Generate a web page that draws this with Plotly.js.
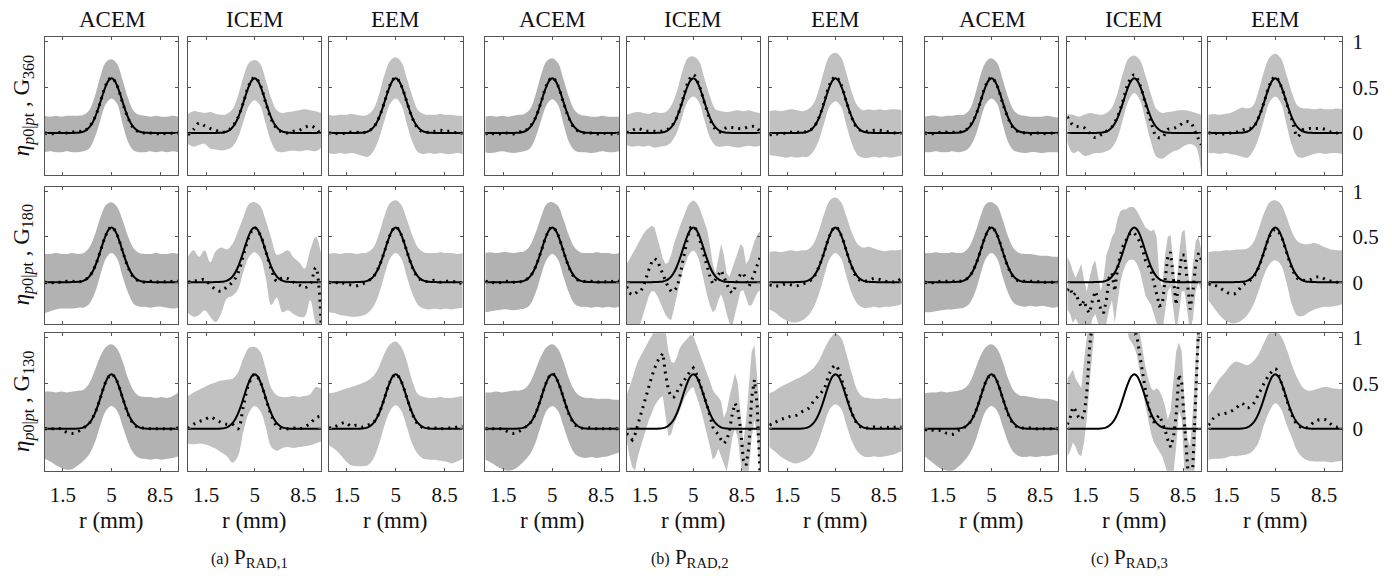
<!DOCTYPE html>
<html>
<head>
<meta charset="utf-8">
<script src="https://cdn.plot.ly/plotly-3.0.1.min.js"></script>
<style>
  html, body { margin: 0; padding: 0; background: #fff; }
  #chart { width: 1392px; height: 576px; }
</style>
</head>
<body>
<div id="chart"></div>
<script>
// Radial positions (mm): coarse grid and fine grid
const r = [0.2,0.6,1.0,1.4,1.8, 2.2,2.6,3.0,3.4,3.8, 4.2,4.6,5.0,5.4,5.8, 6.2,6.6,7.0,7.4,7.8, 8.2,8.6,9.0,9.4,9.8];
const rFine = [0.2,0.4,0.6,0.8,1.0,1.2,1.4,1.6,1.8,2.0,
               2.2,2.4,2.6,2.8,3.0,3.2,3.4,3.6,3.8,4.0,
               4.2,4.4,4.6,4.8,5.0,5.2,5.4,5.6,5.8,6.0,
               6.2,6.4,6.6,6.8,7.0,7.2,7.4,7.6,7.8,8.0,
               8.2,8.4,8.6,8.8,9.0,9.2,9.4,9.6,9.8];

// Reference profile (solid line), same in every panel
const truth = [0,0,0,0,0,0,0,0,0,0,
               0.001,0.002,0.004,0.008,0.017,0.034,0.062,0.105,0.167,0.247,
               0.340,0.436,0.520,0.579,0.600,0.579,0.520,0.436,0.340,0.247,
               0.167,0.105,0.062,0.034,0.017,0.008,0.004,0.002,0.001,0,
               0,0,0,0,0,0,0,0,0];

// Column / row / group labels
const groups = ['a','b','c'];
const groupNames = ['P<sub>RAD,1</sub>','P<sub>RAD,2</sub>','P<sub>RAD,3</sub>'];
const methods = ['ACEM','ICEM','EEM'];
const grids = ['360','180','130'];
const xTicks = [1.5, 5, 8.5];
const xTickText = ['1.5','5','8.5'];
const yTicks = [0, 0.5, 1];
const yTickText = ['0','0.5','1'];

// ---- (a) P_RAD,1 ----
const a_ACEM_360_hi = [0.19,0.18,0.19,0.18,0.19, 0.19,0.19,0.2,0.25,0.4, 0.62,0.78,0.81,0.76,0.58, 0.38,0.24,0.2,0.19,0.18, 0.19,0.18,0.18,0.19,0.18];
const a_ACEM_360_lo = [-0.21,-0.2,-0.21,-0.21,-0.2, -0.21,-0.21,-0.2,-0.17,-0.05, 0.14,0.32,0.38,0.32,0.1, -0.1,-0.19,-0.21,-0.21,-0.2, -0.21,-0.2,-0.21,-0.2,-0.21];
const a_ACEM_360_est = [0,-0.01,0,0.01,0, 0.01,0.02,0.02,0.07,0.17, 0.34,0.53,0.61,0.52,0.33, 0.16,0.05,0.01,0,0, -0.01,0,-0.01,0,0];

const a_ICEM_360_hi = [0.21,0.24,0.23,0.22,0.23, 0.21,0.2,0.21,0.26,0.41, 0.62,0.77,0.8,0.76,0.58, 0.38,0.25,0.22,0.23,0.24, 0.25,0.26,0.25,0.24,0.22];
const a_ICEM_360_lo = [-0.12,-0.15,-0.13,-0.12,-0.17, -0.18,-0.19,-0.18,-0.15,-0.05, 0.13,0.3,0.36,0.3,0.1, -0.1,-0.2,-0.21,-0.2,-0.19, -0.2,-0.19,-0.19,-0.2,-0.16];
const a_ICEM_360_est = [-0.02,0.04,0.11,0.08,0.05, 0.03,0.01,0.02,0.07,0.17, 0.34,0.53,0.61,0.53,0.33, 0.15,0.05,0.01,0,0.02, 0.03,0.06,0.08,0.05,-0.02];

const a_EEM_360_hi = [0.2,0.19,0.2,0.2,0.21, 0.2,0.19,0.2,0.26,0.42, 0.64,0.79,0.83,0.78,0.6, 0.4,0.25,0.21,0.2,0.2, 0.21,0.2,0.2,0.19,0.19];
const a_EEM_360_lo = [-0.22,-0.23,-0.22,-0.23,-0.22, -0.23,-0.25,-0.26,-0.2,-0.06, 0.14,0.32,0.38,0.31,0.1, -0.1,-0.21,-0.23,-0.22,-0.23, -0.22,-0.23,-0.23,-0.22,-0.23];
const a_EEM_360_est = [0,0,-0.01,0,0.01, 0.01,0,0.02,0.06,0.17, 0.34,0.53,0.61,0.52,0.34, 0.16,0.05,0.01,0.01,0.02, 0.03,0.02,0.02,0,0];

const a_ACEM_180_hi = [0.31,0.31,0.32,0.31,0.31, 0.32,0.31,0.32,0.38,0.52, 0.71,0.85,0.88,0.83,0.68, 0.5,0.37,0.32,0.31,0.31, 0.32,0.31,0.31,0.32,0.31];
const a_ACEM_180_lo = [-0.34,-0.32,-0.3,-0.29,-0.29, -0.29,-0.28,-0.28,-0.24,-0.12, 0.08,0.26,0.32,0.26,0.06, -0.12,-0.24,-0.27,-0.27,-0.28, -0.27,-0.27,-0.28,-0.29,-0.28];
const a_ACEM_180_est = [0,-0.01,0,0,0.01, 0.01,0,0.02,0.06,0.17, 0.34,0.52,0.61,0.52,0.34, 0.16,0.05,0.01,0,0.01, 0,0.01,0,0.01,0.01];

const a_ICEM_180_hi = [0.28,0.35,0.28,0.35,0.22, 0.34,0.38,0.36,0.42,0.56, 0.72,0.86,0.88,0.84,0.68, 0.48,0.3,0.32,0.35,0.27, 0.22,0.15,0.35,0.5,0.3];
const a_ICEM_180_lo = [-0.34,-0.38,-0.36,-0.31,-0.38, -0.44,-0.34,-0.18,-0.15,-0.08, 0.12,0.28,0.33,0.27,0.05, -0.25,-0.17,-0.33,-0.31,-0.35, -0.38,-0.38,-0.2,-0.46,-0.6];
const a_ICEM_180_est = [0,0.01,0.02,0.03,-0.03, -0.08,-0.1,-0.05,0,0.1, 0.3,0.5,0.6,0.52,0.34, 0.14,0.01,0.05,0.04,0, -0.03,-0.06,-0.02,0.16,-0.5];

const a_EEM_180_hi = [0.31,0.32,0.31,0.32,0.32, 0.31,0.32,0.33,0.38,0.53, 0.73,0.87,0.9,0.85,0.69, 0.51,0.38,0.33,0.32,0.32, 0.33,0.32,0.32,0.31,0.32];
const a_EEM_180_lo = [-0.33,-0.34,-0.36,-0.37,-0.38, -0.38,-0.37,-0.34,-0.27,-0.13, 0.08,0.26,0.32,0.26,0.06, -0.13,-0.25,-0.29,-0.3,-0.29, -0.3,-0.29,-0.3,-0.29,-0.28];
const a_EEM_180_est = [0,-0.01,0,-0.02,-0.03, -0.04,-0.02,0.01,0.06,0.17, 0.34,0.52,0.61,0.52,0.34, 0.16,0.05,0.01,0.01,0.02, 0,0.01,0.01,0,-0.02];

const a_ACEM_130_hi = [0.41,0.41,0.4,0.41,0.4, 0.41,0.42,0.43,0.5,0.64, 0.8,0.9,0.93,0.88,0.74, 0.55,0.42,0.36,0.35,0.35, 0.34,0.35,0.34,0.36,0.4];
const a_ACEM_130_lo = [-0.33,-0.36,-0.4,-0.43,-0.45, -0.44,-0.4,-0.35,-0.28,-0.15, 0.04,0.2,0.25,0.2,0.03, -0.15,-0.27,-0.32,-0.33,-0.34, -0.33,-0.34,-0.33,-0.32,-0.3];
const a_ACEM_130_est = [0,0,0,0,-0.04, -0.05,-0.03,0.01,0.06,0.17, 0.34,0.52,0.6,0.52,0.34, 0.16,0.05,0.01,0.01,0, 0,0,0,0,0.01];

const a_ICEM_130_hi = [0.36,0.4,0.43,0.46,0.49, 0.51,0.53,0.54,0.55,0.62, 0.78,0.89,0.9,0.85,0.66, 0.45,0.37,0.35,0.35,0.36, 0.35,0.36,0.38,0.46,0.44];
const a_ICEM_130_lo = [-0.16,-0.17,-0.16,-0.17,-0.19, -0.22,-0.26,-0.3,-0.37,-0.3, -0.02,0.18,0.25,0.2,0.02, -0.2,-0.24,-0.21,-0.2,-0.21, -0.2,-0.19,-0.18,-0.16,-0.14];
const a_ICEM_130_est = [0,0.05,0.08,0.1,0.13, 0.1,0.07,0.05,0.05,0, 0.26,0.5,0.6,0.52,0.33, 0.15,0.03,0,0,0.01, 0,0.02,0.06,0.12,0.14];

const a_EEM_130_hi = [0.39,0.4,0.42,0.44,0.46, 0.48,0.5,0.53,0.58,0.68, 0.83,0.93,0.96,0.9,0.74, 0.52,0.38,0.35,0.34,0.34, 0.35,0.34,0.34,0.35,0.36];
const a_EEM_130_lo = [-0.18,-0.22,-0.28,-0.35,-0.4, -0.41,-0.41,-0.4,-0.33,-0.17, 0.04,0.2,0.26,0.2,0.02, -0.17,-0.28,-0.33,-0.34,-0.34, -0.35,-0.36,-0.38,-0.36,-0.33];
const a_EEM_130_est = [0.01,0.02,0.05,0.07,0.03, 0.04,0.02,0.04,0.07,0.17, 0.34,0.52,0.6,0.52,0.34, 0.16,0.05,0.01,0.01,0.01, 0,0.01,0.01,0.02,0.03];

// ---- (b) P_RAD,2 ----
const b_ACEM_360_hi = [0.18,0.19,0.18,0.19,0.18, 0.19,0.2,0.21,0.26,0.42, 0.64,0.79,0.82,0.77,0.59, 0.39,0.25,0.2,0.19,0.18, 0.18,0.19,0.18,0.18,0.18];
const b_ACEM_360_lo = [-0.21,-0.22,-0.21,-0.2,-0.21, -0.22,-0.21,-0.2,-0.17,-0.05, 0.14,0.31,0.37,0.31,0.1, -0.1,-0.19,-0.21,-0.21,-0.22, -0.21,-0.2,-0.21,-0.21,-0.2];
const b_ACEM_360_est = [-0.01,0,-0.02,0,0, -0.01,0.01,0.02,0.07,0.17, 0.34,0.53,0.61,0.52,0.33, 0.16,0.05,0.01,0,0, -0.01,0,-0.01,-0.01,0];

const b_ICEM_360_hi = [0.2,0.22,0.23,0.22,0.21, 0.23,0.22,0.23,0.3,0.45, 0.67,0.82,0.84,0.79,0.6, 0.4,0.26,0.24,0.23,0.24, 0.25,0.24,0.25,0.23,0.22];
const b_ICEM_360_lo = [-0.13,-0.15,-0.14,-0.15,-0.14, -0.16,-0.15,-0.14,-0.1,0, 0.18,0.35,0.4,0.34,0.14, -0.05,-0.14,-0.15,-0.14,-0.15, -0.16,-0.15,-0.14,-0.15,-0.14];
const b_ICEM_360_est = [0,0.03,0.05,0.03,0.02, 0.02,0.02,0.03,0.07,0.17, 0.35,0.55,0.64,0.53,0.33, 0.15,0.04,0.01,0.06,0.06, 0.05,0.05,0.07,0.07,0.02];

const b_EEM_360_hi = [0.24,0.25,0.24,0.25,0.26, 0.25,0.24,0.26,0.32,0.48, 0.7,0.85,0.88,0.83,0.65, 0.44,0.3,0.25,0.26,0.25, 0.26,0.25,0.26,0.26,0.25];
const b_EEM_360_lo = [-0.24,-0.25,-0.26,-0.27,-0.26, -0.27,-0.26,-0.26,-0.2,-0.08, 0.12,0.3,0.35,0.29,0.08, -0.12,-0.24,-0.27,-0.27,-0.26, -0.27,-0.26,-0.27,-0.26,-0.25];
const b_EEM_360_est = [-0.02,-0.01,-0.01,0,0.01, 0.01,0.01,0.02,0.06,0.17, 0.35,0.54,0.62,0.53,0.34, 0.16,0.05,0.02,0.02,0.03, 0.03,0.02,0.01,0,0];

const b_ACEM_180_hi = [0.32,0.33,0.32,0.33,0.33, 0.32,0.33,0.34,0.4,0.54, 0.72,0.86,0.88,0.84,0.69, 0.51,0.38,0.33,0.32,0.32, 0.33,0.32,0.32,0.31,0.32];
const b_ACEM_180_lo = [-0.33,-0.32,-0.31,-0.3,-0.3, -0.31,-0.3,-0.29,-0.25,-0.12, 0.08,0.25,0.31,0.25,0.06, -0.12,-0.24,-0.27,-0.27,-0.28, -0.27,-0.28,-0.27,-0.28,-0.27];
const b_ACEM_180_est = [0.01,0,-0.01,0,0.01, 0,0,0.02,0.06,0.17, 0.34,0.52,0.61,0.52,0.34, 0.16,0.05,0.01,0.01,0.01, 0,0.01,0,0.01,0.01];

const b_ICEM_180_hi = [0.2,0.25,0.3,0.36,0.42,0.48,0.53,0.57,0.6,0.62,
  0.6,0.5,0.38,0.26,0.2,0.22,0.3,0.42,0.52,0.6,
  0.68,0.76,0.84,0.88,0.9,0.88,0.83,0.75,0.66,0.57,
  0.4,0.2,0.1,0.25,0.42,0.3,0.1,0.06,0.15,0.25,
  0.35,0.42,0.38,0.2,0.25,0.35,0.45,0.52,0.56];
const b_ICEM_180_lo = [-0.55,-0.55,-0.52,-0.5,-0.48,-0.45,-0.35,-0.25,-0.15,-0.1,
  -0.1,-0.15,-0.22,-0.3,-0.36,-0.4,-0.42,-0.3,-0.15,-0.02,
  0.1,0.2,0.28,0.33,0.35,0.32,0.25,0.12,-0.02,-0.15,
  -0.26,-0.33,-0.3,-0.2,-0.13,-0.22,-0.35,-0.45,-0.48,-0.35,
  -0.2,-0.1,-0.09,-0.18,-0.26,-0.25,-0.18,-0.12,-0.09];
const b_ICEM_180_est = [-0.05,-0.12,-0.14,-0.13,-0.1,-0.1,-0.05,0.06,0.14,0.22,
  0.26,0.24,0.16,0.08,0.01,-0.06,-0.1,-0.1,-0.06,0.04,
  0.2,0.36,0.5,0.6,0.62,0.58,0.5,0.39,0.28,0.16,
  0.06,-0.02,0.03,0.09,0.13,0.06,-0.02,-0.09,-0.12,-0.06,
  0.03,0.09,0.1,0.03,-0.05,0.02,0.1,0.18,0.27];

const b_EEM_180_hi = [0.33,0.34,0.33,0.34,0.35, 0.34,0.35,0.36,0.42,0.57, 0.76,0.9,0.93,0.88,0.72, 0.54,0.42,0.38,0.39,0.37, 0.35,0.34,0.35,0.35,0.36];
const b_EEM_180_lo = [-0.3,-0.33,-0.38,-0.42,-0.44, -0.44,-0.42,-0.37,-0.28,-0.13, 0.08,0.26,0.32,0.26,0.06, -0.13,-0.24,-0.28,-0.28,-0.27, -0.28,-0.27,-0.27,-0.26,-0.24];
const b_EEM_180_est = [-0.03,-0.04,-0.04,-0.02,-0.03, -0.04,-0.02,0,0.05,0.17, 0.34,0.52,0.61,0.52,0.34, 0.16,0.04,0.01,0.02,0.04, 0.03,0.01,0,0.01,0.04];

const b_ACEM_130_hi = [0.4,0.4,0.41,0.4,0.41, 0.42,0.42,0.44,0.51,0.65, 0.8,0.9,0.93,0.88,0.74, 0.55,0.42,0.36,0.34,0.34, 0.33,0.33,0.33,0.32,0.32];
const b_ACEM_130_lo = [-0.34,-0.37,-0.41,-0.44,-0.46, -0.45,-0.41,-0.35,-0.28,-0.15, 0.04,0.2,0.25,0.2,0.03, -0.15,-0.27,-0.31,-0.32,-0.31, -0.32,-0.31,-0.3,-0.28,-0.26];
const b_ACEM_130_est = [0,0,0,0,-0.03, -0.05,-0.03,0.01,0.06,0.17, 0.34,0.52,0.61,0.52,0.34, 0.16,0.05,0.01,0.01,0.01, 0,0,0,0,0];

const b_ICEM_130_hi = [0.37,0.45,0.55,0.65,0.74,0.8,0.86,0.92,0.97,1.02,
  1.08,1.1,1.1,1.1,1.08,0.85,0.74,0.72,0.78,0.88,
  0.93,0.96,1.0,1.03,1.02,0.94,0.84,0.76,0.7,0.62,
  0.52,0.43,0.38,0.35,0.3,0.12,0.2,0.35,0.5,0.61,
  0.5,0.15,-0.15,0.1,0.5,0.85,0.92,0.55,0.2];
const b_ICEM_130_lo = [-0.12,-0.3,-0.42,-0.46,-0.3,-0.2,-0.1,0.0,0.1,0.17,
  0.25,0.3,0.34,0.36,0.12,-0.08,-0.06,0.05,0.12,0.2,
  0.28,0.35,0.4,0.44,0.46,0.38,0.28,0.18,0.06,-0.05,
  -0.2,-0.34,-0.3,-0.22,-0.3,-0.4,-0.47,-0.3,-0.1,0.0,
  -0.1,-0.35,-0.6,-0.6,-0.45,-0.1,0.1,-0.1,-0.6];
const b_ICEM_130_est = [-0.05,-0.09,-0.12,-0.06,0.05,0.14,0.26,0.36,0.46,0.57,
  0.66,0.74,0.78,0.83,0.6,0.43,0.35,0.35,0.4,0.46,
  0.5,0.55,0.6,0.64,0.67,0.61,0.53,0.44,0.34,0.25,
  0.14,0.02,-0.03,-0.06,-0.12,-0.16,-0.13,-0.02,0.16,0.28,
  0.22,0.0,-0.34,-0.4,-0.2,0.34,0.54,0.25,-0.5];

const b_EEM_130_hi = [0.39,0.42,0.46,0.49,0.52, 0.55,0.58,0.62,0.67,0.75, 0.88,0.99,1.05,1.0,0.82, 0.6,0.42,0.35,0.34,0.33, 0.33,0.34,0.33,0.33,0.34];
const b_EEM_130_lo = [-0.2,-0.25,-0.3,-0.34,-0.37, -0.38,-0.36,-0.33,-0.26,-0.12, 0.06,0.22,0.27,0.22,0.04, -0.14,-0.25,-0.3,-0.31,-0.3, -0.31,-0.3,-0.29,-0.27,-0.25];
const b_EEM_130_est = [0.04,0.07,0.1,0.12,0.14, 0.15,0.19,0.22,0.3,0.37, 0.45,0.62,0.7,0.56,0.36, 0.17,0.05,0.01,0.01,0.02, 0.01,0.02,0.01,0.02,0.02];

// ---- (c) P_RAD,3 ----
const c_ACEM_360_hi = [0.18,0.19,0.19,0.18,0.19, 0.19,0.2,0.2,0.25,0.41, 0.63,0.78,0.82,0.77,0.59, 0.39,0.25,0.2,0.19,0.18, 0.18,0.18,0.19,0.18,0.17];
const c_ACEM_360_lo = [-0.21,-0.21,-0.2,-0.21,-0.21, -0.2,-0.21,-0.2,-0.16,-0.05, 0.14,0.32,0.38,0.32,0.1, -0.1,-0.19,-0.21,-0.22,-0.21, -0.21,-0.22,-0.21,-0.21,-0.21];
const c_ACEM_360_est = [0,-0.01,0,0.01,0.01, 0.01,0.01,0.02,0.07,0.17, 0.34,0.53,0.61,0.52,0.33, 0.16,0.05,0.01,0,-0.01, 0,0,-0.01,0,0];

const c_ICEM_360_hi = [0.21,0.2,0.18,0.2,0.22, 0.21,0.2,0.22,0.28,0.44, 0.66,0.82,0.85,0.8,0.63, 0.42,0.26,0.22,0.23,0.24, 0.25,0.25,0.24,0.22,0.2];
const c_ICEM_360_lo = [-0.1,-0.22,-0.2,-0.25,-0.24, -0.22,-0.22,-0.2,-0.16,-0.05, 0.16,0.36,0.44,0.36,0.14, -0.1,-0.26,-0.28,-0.24,-0.2, -0.18,-0.14,-0.12,-0.15,-0.45];
const c_ICEM_360_est = [0.18,0.09,0.07,0.06,0, -0.05,-0.02,0.02,0.07,0.18, 0.36,0.56,0.64,0.53,0.32, 0.12,-0.04,-0.05,0.04,0.05, 0.08,0.12,0.12,0,-0.13];

const c_EEM_360_hi = [0.2,0.21,0.2,0.21,0.22, 0.25,0.28,0.27,0.3,0.46, 0.68,0.83,0.87,0.82,0.64, 0.44,0.3,0.27,0.27,0.26, 0.27,0.26,0.26,0.27,0.26];
const c_EEM_360_lo = [-0.22,-0.22,-0.23,-0.22,-0.23, -0.24,-0.26,-0.27,-0.2,-0.06, 0.15,0.34,0.4,0.33,0.1, -0.14,-0.26,-0.27,-0.25,-0.23, -0.22,-0.23,-0.22,-0.22,-0.23];
const c_EEM_360_est = [0,0,-0.01,-0.01,0, 0.01,0.03,0.05,0.06,0.17, 0.34,0.53,0.62,0.52,0.33, 0.14,-0.04,0.04,0.05,0.05, 0.05,0.04,0.01,0,0];

const c_ACEM_180_hi = [0.32,0.32,0.33,0.32,0.32, 0.33,0.32,0.33,0.39,0.53, 0.72,0.86,0.88,0.84,0.69, 0.5,0.37,0.32,0.31,0.31, 0.3,0.29,0.29,0.28,0.28];
const c_ACEM_180_lo = [-0.33,-0.33,-0.32,-0.31,-0.3, -0.3,-0.29,-0.28,-0.24,-0.12, 0.08,0.26,0.32,0.26,0.06, -0.12,-0.23,-0.26,-0.27,-0.26, -0.27,-0.26,-0.27,-0.28,-0.27];
const c_ACEM_180_est = [0,-0.01,0,0.01,0.01, 0.01,0.01,0.02,0.06,0.17, 0.34,0.52,0.61,0.52,0.34, 0.16,0.05,0.01,0.01,0.01, 0.01,0,0,0,0.01];

const c_ICEM_180_hi = [0.28,0.22,0.12,0.05,0.12,0.2,0.02,-0.1,0.05,0.18,
  0.24,0.05,-0.1,0.05,0.3,0.39,0.5,0.55,0.7,0.78,
  0.8,0.8,0.82,0.83,0.82,0.78,0.72,0.66,0.6,0.58,
  0.56,0.58,0.5,0.05,-0.05,0.3,0.5,0.52,0.2,-0.1,
  0.3,0.55,0.58,0.25,-0.1,0.2,0.45,0.5,0.35];
const c_ICEM_180_lo = [-0.3,-0.35,-0.45,-0.4,-0.46,-0.5,-0.45,-0.55,-0.55,-0.4,
  -0.35,-0.45,-0.55,-0.55,-0.45,-0.3,-0.2,-0.45,-0.2,0.0,
  0.12,0.2,0.24,0.25,0.24,0.2,0.12,0.0,-0.15,-0.2,
  -0.25,-0.35,-0.45,-0.55,-0.55,-0.35,-0.1,-0.05,-0.3,-0.55,
  -0.35,-0.1,-0.1,-0.35,-0.55,-0.4,-0.1,0.0,-0.1];
const c_ICEM_180_est = [-0.09,-0.06,-0.15,-0.12,-0.2,-0.27,-0.2,-0.3,-0.34,-0.2,
  -0.1,-0.18,-0.3,-0.34,-0.2,0.05,0.1,-0.1,0.15,0.3,
  0.4,0.47,0.52,0.55,0.54,0.5,0.44,0.35,0.24,0.18,
  0.12,0.0,-0.15,-0.26,-0.25,0.05,0.28,0.33,0.05,-0.25,
  0.05,0.3,0.3,0.0,-0.3,-0.1,0.2,0.32,0.25];

const c_EEM_180_hi = [0.33,0.34,0.34,0.35,0.35, 0.36,0.36,0.37,0.43,0.58, 0.76,0.88,0.9,0.86,0.72, 0.55,0.45,0.42,0.42,0.43, 0.41,0.38,0.36,0.35,0.35];
const c_EEM_180_lo = [-0.2,-0.28,-0.36,-0.42,-0.45, -0.45,-0.42,-0.36,-0.26,-0.1, 0.08,0.2,0.24,0.19,0, -0.25,-0.37,-0.37,-0.33,-0.3, -0.28,-0.27,-0.27,-0.26,-0.24];
const c_EEM_180_est = [-0.02,-0.03,-0.06,-0.1,-0.13, -0.12,-0.04,0,0.05,0.16, 0.33,0.51,0.58,0.51,0.33, 0.15,0.04,0.02,0.02,0.05, 0.06,0.03,0.01,0,0];

const c_ACEM_130_hi = [0.39,0.4,0.4,0.41,0.4, 0.41,0.42,0.44,0.5,0.64, 0.8,0.9,0.93,0.88,0.74, 0.55,0.42,0.37,0.36,0.35, 0.34,0.33,0.33,0.32,0.3];
const c_ACEM_130_lo = [-0.3,-0.35,-0.4,-0.44,-0.46, -0.46,-0.42,-0.36,-0.28,-0.15, 0.04,0.2,0.25,0.2,0.03, -0.15,-0.26,-0.3,-0.31,-0.3, -0.31,-0.3,-0.3,-0.29,-0.28];
const c_ACEM_130_est = [-0.01,-0.01,-0.02,-0.02,-0.05, -0.06,-0.02,0.01,0.06,0.17, 0.34,0.52,0.6,0.52,0.34, 0.16,0.05,0.01,0.01,0.01, 0,0,0,0,0];

const c_ICEM_130_hi = [0.55,0.6,0.65,0.55,0.5,0.45,0.75,1.1,1.5,2.0,
  2.5,2.6,2.6,2.6,2.6,2.6,2.6,2.6,2.6,2.6,
  2.5,2.4,2.1,1.8,1.5,1.2,1.05,0.85,0.68,0.55,
  0.45,0.42,0.45,0.42,0.35,0.25,0.1,0.2,0.55,0.85,
  0.95,0.85,0.3,-0.1,-0.2,0.2,0.8,1.5,2.0];
const c_ICEM_130_lo = [-0.3,-0.25,-0.15,-0.2,-0.28,-0.3,-0.15,0.1,0.5,0.9,
  1.3,1.5,1.5,1.5,1.5,1.5,1.5,1.5,1.5,1.5,
  1.4,1.2,1.0,0.95,0.9,0.8,0.6,0.42,0.25,0.1,
  -0.05,-0.15,-0.2,-0.25,-0.3,-0.4,-0.5,-0.6,-0.5,-0.2,
  0.2,0.1,-0.5,-0.9,-1.1,-0.8,-0.2,0.8,1.2];
const c_ICEM_130_est = [0.05,0.12,0.24,0.2,0.13,0.1,0.15,0.4,0.9,1.4,
  1.8,2.1,2.2,2.3,2.4,2.4,2.4,2.4,2.3,2.2,
  2.1,1.8,1.55,1.3,1.12,1.0,0.8,0.62,0.42,0.26,
  0.13,0.07,0.12,0.15,0.08,-0.01,-0.12,-0.2,-0.1,0.15,
  0.6,0.5,0.05,-0.4,-0.8,-0.4,0.3,1.1,1.6];

const c_EEM_130_hi = [0.36,0.45,0.55,0.62,0.7, 0.74,0.72,0.7,0.74,0.82, 0.95,1.06,1.08,1.02,0.88, 0.7,0.55,0.45,0.42,0.43, 0.45,0.46,0.45,0.44,0.44];
const c_EEM_130_lo = [-0.34,-0.33,-0.33,-0.32,-0.3, -0.3,-0.29,-0.28,-0.24,-0.15, 0.05,0.2,0.28,0.22,0.05, -0.1,-0.25,-0.32,-0.35,-0.36, -0.36,-0.36,-0.37,-0.36,-0.35];
const c_EEM_130_est = [0.04,0.12,0.16,0.17,0.19, 0.23,0.28,0.23,0.27,0.38, 0.5,0.6,0.66,0.52,0.33, 0.15,0.04,0.01,0.02,0.08, 0.1,0.1,0.05,0.02,0.04];

// Lookup table: panel key -> [x grid, lower bound, upper bound, estimate]
const panelSeries = {
  a_ACEM_360: [r, a_ACEM_360_lo, a_ACEM_360_hi, a_ACEM_360_est],
  a_ICEM_360: [r, a_ICEM_360_lo, a_ICEM_360_hi, a_ICEM_360_est],
  a_EEM_360:  [r, a_EEM_360_lo,  a_EEM_360_hi,  a_EEM_360_est],
  a_ACEM_180: [r, a_ACEM_180_lo, a_ACEM_180_hi, a_ACEM_180_est],
  a_ICEM_180: [r, a_ICEM_180_lo, a_ICEM_180_hi, a_ICEM_180_est],
  a_EEM_180:  [r, a_EEM_180_lo,  a_EEM_180_hi,  a_EEM_180_est],
  a_ACEM_130: [r, a_ACEM_130_lo, a_ACEM_130_hi, a_ACEM_130_est],
  a_ICEM_130: [r, a_ICEM_130_lo, a_ICEM_130_hi, a_ICEM_130_est],
  a_EEM_130:  [r, a_EEM_130_lo,  a_EEM_130_hi,  a_EEM_130_est],
  b_ACEM_360: [r, b_ACEM_360_lo, b_ACEM_360_hi, b_ACEM_360_est],
  b_ICEM_360: [r, b_ICEM_360_lo, b_ICEM_360_hi, b_ICEM_360_est],
  b_EEM_360:  [r, b_EEM_360_lo,  b_EEM_360_hi,  b_EEM_360_est],
  b_ACEM_180: [r, b_ACEM_180_lo, b_ACEM_180_hi, b_ACEM_180_est],
  b_ICEM_180: [rFine, b_ICEM_180_lo, b_ICEM_180_hi, b_ICEM_180_est],
  b_EEM_180:  [r, b_EEM_180_lo,  b_EEM_180_hi,  b_EEM_180_est],
  b_ACEM_130: [r, b_ACEM_130_lo, b_ACEM_130_hi, b_ACEM_130_est],
  b_ICEM_130: [rFine, b_ICEM_130_lo, b_ICEM_130_hi, b_ICEM_130_est],
  b_EEM_130:  [r, b_EEM_130_lo,  b_EEM_130_hi,  b_EEM_130_est],
  c_ACEM_360: [r, c_ACEM_360_lo, c_ACEM_360_hi, c_ACEM_360_est],
  c_ICEM_360: [r, c_ICEM_360_lo, c_ICEM_360_hi, c_ICEM_360_est],
  c_EEM_360:  [r, c_EEM_360_lo,  c_EEM_360_hi,  c_EEM_360_est],
  c_ACEM_180: [r, c_ACEM_180_lo, c_ACEM_180_hi, c_ACEM_180_est],
  c_ICEM_180: [rFine, c_ICEM_180_lo, c_ICEM_180_hi, c_ICEM_180_est],
  c_EEM_180:  [r, c_EEM_180_lo,  c_EEM_180_hi,  c_EEM_180_est],
  c_ACEM_130: [r, c_ACEM_130_lo, c_ACEM_130_hi, c_ACEM_130_est],
  c_ICEM_130: [rFine, c_ICEM_130_lo, c_ICEM_130_hi, c_ICEM_130_est],
  c_EEM_130:  [r, c_EEM_130_lo,  c_EEM_130_hi,  c_EEM_130_est]
};

// ---- page geometry (pixels) ----
const W = 1392, H = 576;
const colPx = [[44.7,178.3],[188,321.3],[328.7,462.7],
               [485.3,619.3],[626.7,760],[769.3,901.7],
               [924.7,1058.3],[1067.3,1201.3],[1208.3,1342.3]];
const rowPx = [[37.3,175],[186.7,324],[333.3,470.7]];
const FONT = 'Liberation Serif, Times New Roman, serif';
const frame = '#555555';
const ink = '#111111';

const traces = [];
const layout = {
  width: W, height: H,
  margin: {l: 0, r: 0, t: 0, b: 0},
  paper_bgcolor: '#ffffff', plot_bgcolor: '#ffffff',
  showlegend: false,
  annotations: []
};

for (let i = 0; i < 3; i++) {
  for (let j = 0; j < 9; j++) {
    const n = i * 9 + j + 1;
    const xa = n === 1 ? 'x' : 'x' + n;
    const ya = n === 1 ? 'y' : 'y' + n;
    const g = Math.floor(j / 3), m = j % 3;
    const key = groups[g] + '_' + methods[m] + '_' + grids[i];
    const [xs, lo, hi, est] = panelSeries[key];
    const shape = xs === rFine ? 'linear' : 'spline';
    const band = m === 0 ? '#b2b2b2' : '#c1c1c1';

    traces.push({x: xs, y: lo, xaxis: xa, yaxis: ya, type: 'scatter', mode: 'lines',
                 line: {width: 0, shape: shape}, hoverinfo: 'skip'});
    traces.push({x: xs, y: hi, xaxis: xa, yaxis: ya, type: 'scatter', mode: 'lines',
                 line: {width: 0, shape: shape}, fill: 'tonexty', fillcolor: band, hoverinfo: 'skip'});
    traces.push({x: rFine, y: truth, xaxis: xa, yaxis: ya, type: 'scatter', mode: 'lines',
                 line: {color: '#000000', width: 2, shape: 'spline'}, hoverinfo: 'skip'});
    traces.push({x: xs, y: est, xaxis: xa, yaxis: ya, type: 'scatter', mode: 'lines',
                 line: {color: '#000000', width: 3, dash: '2px,5px', shape: shape}, hoverinfo: 'skip'});

    const axisCommon = {
      ticks: 'inside', ticklen: 3, tickwidth: 1, tickcolor: frame,
      showline: true, linecolor: frame, linewidth: 1, mirror: 'ticks',
      showgrid: false, zeroline: false, fixedrange: true,
      tickfont: {family: FONT, size: 21, color: ink}
    };
    layout['xaxis' + (n === 1 ? '' : n)] = Object.assign({}, axisCommon, {
      domain: [colPx[j][0] / W, colPx[j][1] / W],
      range: [0.2, 9.8], anchor: ya,
      tickmode: 'array', tickvals: xTicks, ticktext: xTickText,
      showticklabels: i === 2, ticklabelstandoff: 5
    });
    layout['yaxis' + (n === 1 ? '' : n)] = Object.assign({}, axisCommon, {
      domain: [1 - rowPx[i][1] / H, 1 - rowPx[i][0] / H],
      range: [-0.46, 1.05], anchor: xa,
      tickmode: 'array', tickvals: yTicks, ticktext: yTickText,
      side: j === 8 ? 'right' : 'left',
      showticklabels: j === 8, ticklabelstandoff: 5
    });
  }
}

// Column headings and x-axis titles
for (let j = 0; j < 9; j++) {
  const cx = (colPx[j][0] + colPx[j][1]) / 2 / W;
  layout.annotations.push({
    text: methods[j % 3], x: cx, y: 1 - 19 / H, xref: 'paper', yref: 'paper',
    xanchor: 'center', yanchor: 'middle', showarrow: false,
    font: {family: FONT, size: 23, color: ink}
  });
  layout.annotations.push({
    text: 'r (mm)', x: cx, y: 1 - 520 / H, xref: 'paper', yref: 'paper',
    xanchor: 'center', yanchor: 'middle', showarrow: false,
    font: {family: FONT, size: 23, color: ink}
  });
}

// Row labels
for (let i = 0; i < 3; i++) {
  const cy = 1 - (rowPx[i][0] + rowPx[i][1]) / 2 / H;
  layout.annotations.push({
    text: '<i>η</i><sub><i>p</i>0|<i>p</i>t</sub> , G<sub>' + grids[i] + '</sub>',
    x: 23 / W, y: cy, xref: 'paper', yref: 'paper', textangle: -90,
    xanchor: 'center', yanchor: 'middle', showarrow: false,
    font: {family: FONT, size: 23, color: ink}
  });
}

// Group captions
for (let g = 0; g < 3; g++) {
  const gx = (colPx[g * 3][0] + colPx[g * 3 + 2][1]) / 2 / W - 4 / W;
  layout.annotations.push({
    text: '<span style="font-size:16px">(' + groups[g] + ')</span> ' + groupNames[g],
    x: gx, y: 1 - 558 / H, xref: 'paper', yref: 'paper',
    xanchor: 'center', yanchor: 'middle', showarrow: false,
    font: {family: FONT, size: 21, color: ink}
  });
}

Plotly.newPlot('chart', traces, layout, {displayModeBar: false, staticPlot: true});
</script>
</body>
</html>
